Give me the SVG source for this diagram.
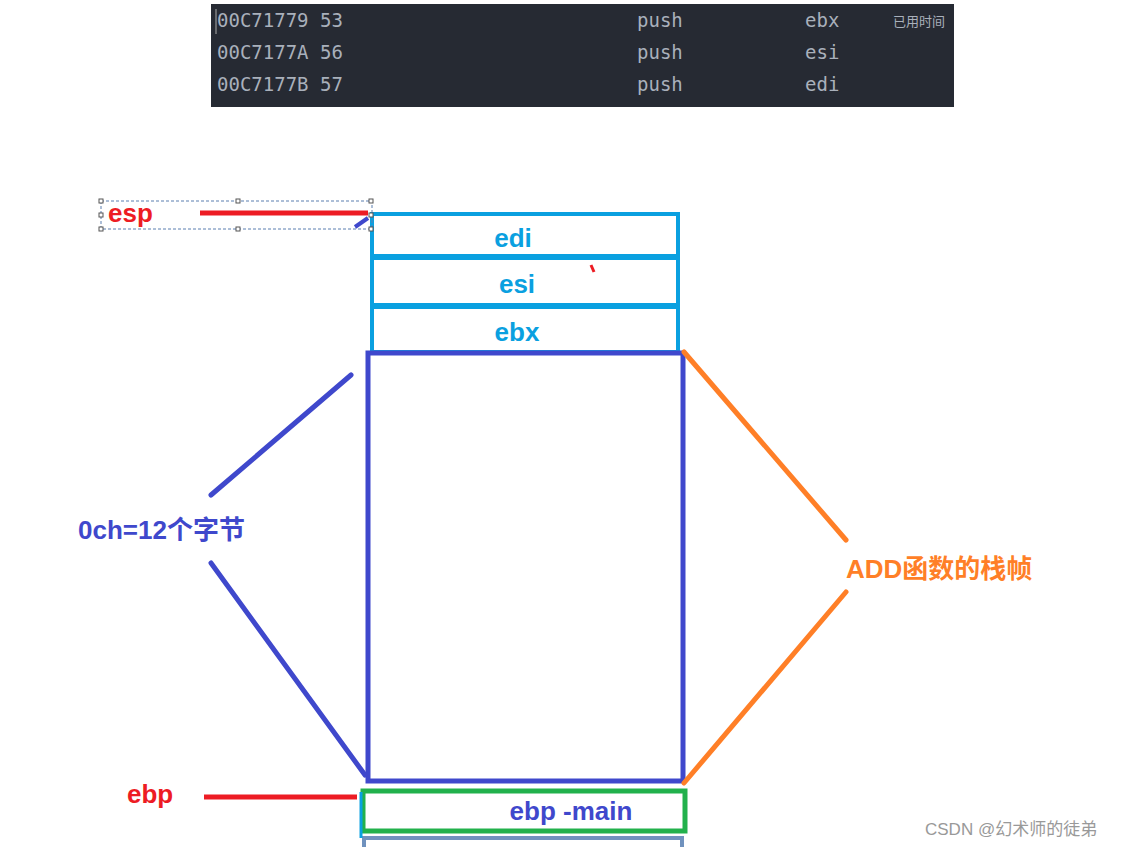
<svg xmlns="http://www.w3.org/2000/svg" width="1132" height="847" viewBox="0 0 1132 847">
<style>
.code{font-family:"DejaVu Sans Mono","Liberation Mono",monospace;font-size:19px;fill:#a9b0bb}
.lbl{font-family:"Liberation Sans","Noto Sans CJK SC",sans-serif;font-weight:bold;font-size:26px}
.cell{fill:#fff;stroke:#0aa0e0;stroke-width:4}
.blue{stroke:#3f48cc;stroke-width:5;fill:none;stroke-linecap:round}
.orange{stroke:#ff7f27;stroke-width:5;fill:none;stroke-linecap:round}
.red{stroke:#ed1c24;stroke-width:5;fill:none}
.h{fill:#fff;stroke:#555;stroke-width:1}
</style>
<rect width="1132" height="847" fill="#fff"/>
<g id="code">
<rect x="211" y="4" width="743" height="103" fill="#262a33"/>
<line x1="216" y1="9" x2="216" y2="34" stroke="#aaa" stroke-width="1"/>
<text class="code" x="217" y="27">00C71779 53</text><text class="code" x="637" y="27">push</text><text class="code" x="805" y="27">ebx</text>
<text x="893" y="26" font-family="Noto Sans CJK SC,sans-serif" font-size="13" fill="#a9b0bb">已用时间</text>
<text class="code" x="217" y="59">00C7177A 56</text><text class="code" x="637" y="59">push</text><text class="code" x="805" y="59">esi</text>
<text class="code" x="217" y="91">00C7177B 57</text><text class="code" x="637" y="91">push</text><text class="code" x="805" y="91">edi</text>
</g>
<g id="edi"><rect class="cell" x="372" y="214" width="306" height="42"/><text class="lbl" x="513" y="247" fill="#0aa0e0" text-anchor="middle">edi</text></g>
<g id="esi"><rect class="cell" x="372" y="258" width="306" height="47"/><text class="lbl" x="517" y="293" fill="#0aa0e0" text-anchor="middle">esi</text></g>
<g id="ebx"><rect class="cell" x="372" y="307" width="306" height="45"/><text class="lbl" x="517" y="341" fill="#0aa0e0" text-anchor="middle">ebx</text></g>
<g id="frame"><rect x="368" y="353" width="315" height="428" fill="none" stroke="#3f48cc" stroke-width="5"/></g>
<g id="ebpmain"><rect x="363" y="791" width="322" height="40" fill="#fff" stroke="#22b14c" stroke-width="5"/><text class="lbl" x="571" y="820" fill="#3f48cc" text-anchor="middle">ebp   -main</text></g>
<rect x="364" y="838" width="318" height="12" fill="#fff" stroke="#7092be" stroke-width="4"/>
<line x1="361" y1="792" x2="361" y2="838" stroke="#0aa0e0" stroke-width="3"/>
<g id="esp">
<rect x="101" y="201" width="271" height="28" fill="none" stroke="#5b7fb0" stroke-dasharray="3,2"/>
<rect class="h" x="99" y="199" width="4" height="4"/><rect class="h" x="236" y="199" width="4" height="4"/><rect class="h" x="369" y="199" width="4" height="4"/>
<rect class="h" x="99" y="213" width="4" height="4"/><rect class="h" x="369" y="213" width="4" height="4"/>
<rect class="h" x="99" y="227" width="4" height="4"/><rect class="h" x="236" y="227" width="4" height="4"/><rect class="h" x="369" y="227" width="4" height="4"/>
<text class="lbl" x="108" y="222" fill="#ed1c24">esp</text>
</g>
<g id="ebp"><text class="lbl" x="127" y="803" fill="#ed1c24">ebp</text></g>
<g id="size"><text class="lbl" x="78" y="539" fill="#3f48cc">0ch=12个字节</text></g>
<g id="add"><text class="lbl" x="846" y="578" fill="#ff7f27">ADD函数的栈帧</text></g>
<g id="connectors">
<line class="red" x1="200" y1="213" x2="368" y2="213"/>
<line x1="355" y1="227" x2="368" y2="218" stroke="#3f48cc" stroke-width="4"/>
<line class="red" x1="204" y1="797" x2="357" y2="797"/>
<line class="blue" x1="211" y1="495" x2="351" y2="375"/>
<line class="blue" x1="211" y1="563" x2="365" y2="775"/>
<line class="orange" x1="684" y1="352" x2="846" y2="540"/>
<line class="orange" x1="846" y1="592" x2="684" y2="783"/>
<line x1="591" y1="265" x2="594" y2="272" stroke="#ed1c24" stroke-width="3"/>
</g>
<text x="925" y="835" font-family="Liberation Sans,Noto Sans CJK SC,sans-serif" font-size="17" fill="#999">CSDN @幻术师的徒弟</text>
</svg>
